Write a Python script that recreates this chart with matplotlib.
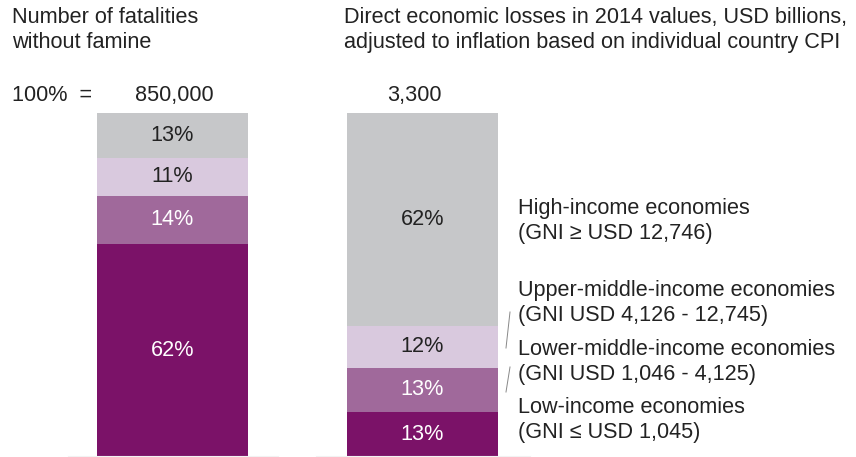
import matplotlib.pyplot as plt
from matplotlib.lines import Line2D

plt.rcParams['font.family'] = ['Liberation Sans', 'DejaVu Sans']

# data
groups = ['Fatalities', 'Economic losses']
totals = ['850,000', '3,300']
segments = ['Low-income', 'Lower-middle-income', 'Upper-middle-income', 'High-income']
fatalities = [62, 14, 11, 13]
losses = [13, 13, 12, 62]
colors = ['#7B1268', '#A0699B', '#D9C9DE', '#C6C7C9']
text_colors = ['white', 'white', '#222222', '#222222']
legend_lines = [
    ('Low-income economies', '(GNI \u2264 USD 1,045)'),
    ('Lower-middle-income economies', '(GNI USD 1,046 - 4,125)'),
    ('Upper-middle-income economies', '(GNI USD 4,126 - 12,745)'),
    ('High-income economies', '(GNI \u2265 USD 12,746)'),
]

W, H = 856, 457
fig = plt.figure(figsize=(W / 100, H / 100), dpi=100)
ax = fig.add_axes([0, 0, 1, 344 / H])
ax.set_xlim(-172.5 / 250, (W - 172.5) / 250)
ax.set_ylim(0, 100)
ax.axis('off')

fs = 15.6
for i, vals in enumerate([fatalities, losses]):
    bottom = 0
    for v, c, tc in zip(vals, colors, text_colors):
        ax.bar(i, v, bottom=bottom, width=0.605, color=c, linewidth=0)
        ax.text(i, bottom + v / 2, f'{v}%', ha='center', va='center',
                color=tc, fontsize=fs)
        bottom += v

def fy(ypx):
    return 1 - ypx / H

# faint baselines
for x0, x1 in [(68, 278), (316, 530)]:
    fig.add_artist(Line2D([x0 / W, x1 / W], [fy(456), fy(456)], color='#F2F2F2', lw=0.8))

# headers
fig.text(12 / W, fy(30), 'Number of fatalities\nwithout famine', fontsize=fs,
         va='center', ha='left', color='#222222', linespacing=1.2)
fig.text(344 / W, fy(30), 'Direct economic losses in 2014 values, USD billions,\n'
         'adjusted to inflation based on individual country CPI', fontsize=fs,
         va='center', ha='left', color='#222222', linespacing=1.2)
fig.text(12 / W, fy(96), '100%  =', fontsize=fs, va='center', ha='left', color='#222222')
fig.text(174 / W, fy(96), totals[0], fontsize=fs, va='center', ha='center', color='#222222')
fig.text(414 / W, fy(96), totals[1], fontsize=fs, va='center', ha='center', color='#222222')

# legend labels on the right
label_y = [420, 362, 303, 221]
for (l1, l2), y in zip(legend_lines, label_y):
    fig.text(518 / W, fy(y), l1 + '\n' + l2, fontsize=fs, va='center', ha='left',
             color='#222222', linespacing=1.2)

# leader lines
for (x0, y0, x1, y1) in [(506, 348, 510, 312), (506, 392, 510, 367)]:
    fig.add_artist(Line2D([x0 / W, x1 / W], [fy(y0), fy(y1)], color='#888888', lw=0.7))

fig.savefig('out.png', dpi=100)
